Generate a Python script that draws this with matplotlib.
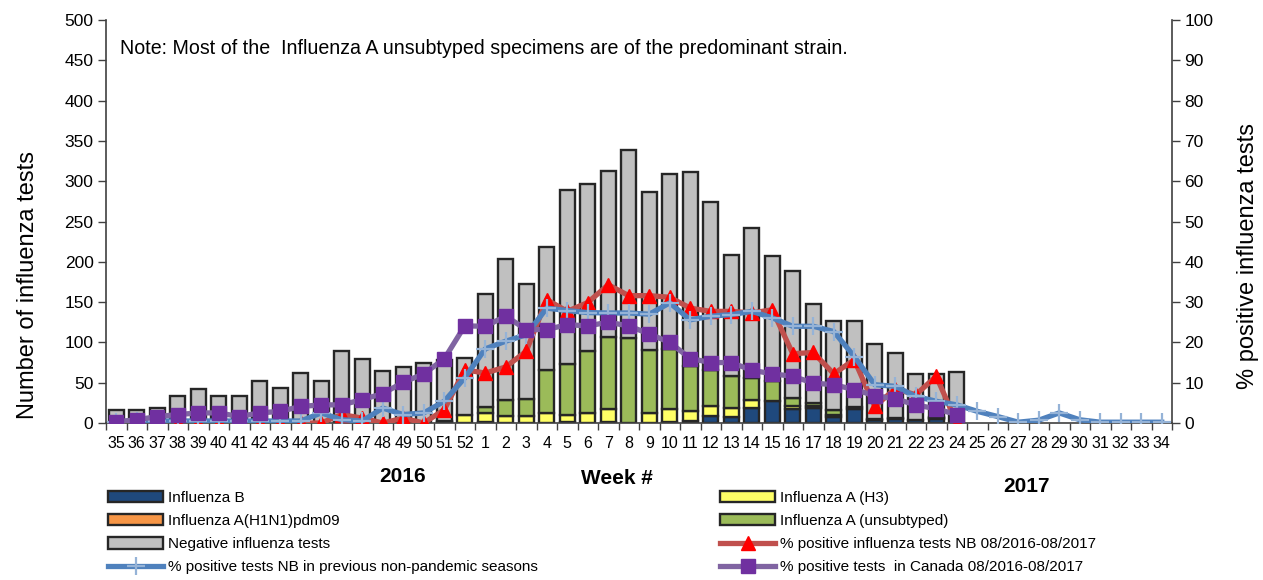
import matplotlib
matplotlib.use("Agg")
import matplotlib.pyplot as plt
import numpy as np

plt.rcParams['font.family'] = ['Liberation Sans Narrow', 'Liberation Sans', 'DejaVu Sans']

# weeks 35..52 (2016) then 1..34 (2017)
weeks = [str(w) for w in range(35, 53)] + [str(w) for w in range(1, 35)]

# bar data: weeks 35 .. 24 (42 weeks with lab data)
total_tests = [16, 16, 18, 33, 42, 34, 34, 52, 44, 62, 52, 89, 80, 65, 69, 75, 78, 81,
               160, 203, 173, 218, 289, 297, 313, 339, 286, 309, 312, 274, 208, 242,
               207, 188, 148, 126, 127, 98, 87, 61, 61, 63]
flu_b = [0, 0, 0, 0, 0, 0, 0, 0, 0, 0, 0, 1, 1, 0, 1, 0, 1, 0,
         1, 0, 0, 0, 1, 0, 1, 0, 0, 1, 2, 9, 7, 18, 27, 17, 19, 8, 17, 4, 5, 4, 5, 0]
flu_h3 = [0, 0, 0, 0, 0, 0, 0, 0, 0, 0, 0, 0, 0, 0, 0, 0, 0, 10,
          11, 9, 9, 13, 9, 13, 16, 0, 12, 16, 13, 12, 11, 11, 0, 4, 2, 2, 0, 0, 0, 0, 1, 0]
flu_h1n1 = [0] * 42
flu_unsub = [0, 0, 0, 0, 0, 0, 0, 0, 0, 0, 0, 1, 0, 0, 0, 0, 2, 0,
             8, 20, 21, 53, 63, 76, 90, 105, 78, 75, 56, 45, 40, 27, 25, 10, 4, 6, 3, 1, 1, 0, 1, 0]

# % positive NB 2016-2017 (weeks 35..24)
pct_nb = [0, 0, 0, 0, 0, 0, 0, 0, 0, 0, 0, 2.1, 1.2, 0, 1.2, 0, 3.3, 13.2,
          12.4, 13.9, 17.8, 30.6, 27.7, 29.9, 34.3, 31.6, 31.6, 31.2, 28.5, 27.7, 27.7, 27.3,
          28.1, 17.2, 17.5, 12.2, 15.7, 4.1, 8.5, 7.0, 11.6, 0]
# % positive NB previous non-pandemic seasons (all 52 weeks)
pct_prev = [0.3, 0.5, 0.5, 0.5, 0.5, 0.5, 0.5, 0.5, 0.5, 0.5, 2.5, 0.8, 0.5, 3.7, 2.1, 2.5, 5.4, 11.2,
            18.4, 20.3, 21.9, 28.5, 27.9, 27.4, 27.3, 27.3, 27.0, 29.8, 25.6, 26.5, 26.9, 27.7,
            26.1, 24.0, 24.0, 22.7, 16.5, 9.5, 9.1, 6.6, 5.4, 4.5, 2.9, 1.6, 0.2, 0.7, 2.5, 0.8,
            0.2, 0.2, 0.2, 0.2]
# % positive Canada (weeks 35..24)
pct_canada = [0.3, 0.8, 1.6, 2.1, 2.5, 2.5, 1.6, 2.5, 2.9, 4.1, 4.5, 4.5, 5.8, 7.3, 10.1, 12.2, 15.9, 24.1,
              24.0, 26.5, 23.2, 23.2, 24.4, 24.1, 25.0, 24.1, 22.1, 20.0, 16.0, 15.0, 15.0, 13.1,
              12.2, 11.6, 9.9, 9.5, 8.3, 6.8, 6.0, 4.5, 3.5, 2.1]

neg = [t - b - h - h1 - u for t, b, h, h1, u in zip(total_tests, flu_b, flu_h3, flu_h1n1, flu_unsub)]

fig = plt.figure(figsize=(12.63, 5.8), dpi=100)
ax = fig.add_axes([106/1263, 1-423/580, (1172-106)/1263, (423-20)/580])
ax2 = ax.twinx()

x = np.arange(len(total_tests))
edge = '#262626'
bottom = np.zeros(len(x))
series = [(flu_b, '#1F497D', 'Influenza B'),
          (flu_h3, '#FFFF66', 'Influenza A (H3)'),
          (flu_h1n1, '#F79646', 'Influenza A(H1N1)pdm09'),
          (flu_unsub, '#9BBB59', 'Influenza A (unsubtyped)'),
          (neg, '#C0C0C0', 'Negative influenza tests')]
bar_handles = []
for vals, col, lab in series:
    vals = np.array(vals, dtype=float)
    m = vals > 0
    ax.bar(x[m], vals[m], bottom=bottom[m], width=0.72, color=col,
           edgecolor=edge, linewidth=1.7, zorder=2)
    bottom += vals
    bar_handles.append(plt.Rectangle((0, 0), 1, 1, facecolor=col, edgecolor=edge, linewidth=1.7, label=lab))

xa = np.arange(len(weeks))
l_red, = ax2.plot(x, pct_nb, color='#C0504D', lw=3.8, marker='^', ms=10,
                  mfc='red', mec='red', label='% positive influenza tests NB 08/2016-08/2017', zorder=3)
l_blue, = ax2.plot(xa, pct_prev, color='#4F81BD', lw=3.8, marker='+', ms=13, mew=1.6,
                   mec='#95B3D7', label='% positive tests NB in previous non-pandemic seasons', zorder=4)
l_pur, = ax2.plot(x, pct_canada, color='#8064A2', lw=3.8, marker='s', ms=10.5,
                  mfc='#7030A0', mec='#7030A0', label='% positive tests  in Canada 08/2016-08/2017', zorder=5)

ax.set_xlim(-0.5, len(weeks) - 0.5)
ax.set_ylim(0, 500)
ax2.set_ylim(0, 100)
ax.set_yticks(np.arange(0, 501, 50))
ax2.set_yticks(np.arange(0, 101, 10))
ax.set_xticks(xa)
ax.set_xticklabels(weeks, fontsize=11.5)
ax.set_xticks(np.arange(-0.5, len(weeks)), minor=True)
ax.tick_params(axis='x', which='major', length=0, pad=9)
ax.tick_params(axis='x', which='minor', length=5, width=1, direction='out', color='#404040')
ax.tick_params(axis='y', labelsize=12.5, length=6, width=1, color='#404040', pad=3)
ax2.tick_params(axis='y', labelsize=12.5, length=6, width=1, color='#404040', pad=3)

for a in (ax, ax2):
    a.spines['top'].set_visible(False)
ax.spines['right'].set_visible(False)
ax2.spines['left'].set_visible(False)
ax2.spines['bottom'].set_visible(False)
for s in ('left', 'bottom'):
    ax.spines[s].set_color('#404040')
    ax.spines[s].set_linewidth(1.2)
ax2.spines['right'].set_color('#404040')
ax2.spines['right'].set_linewidth(1.2)

ax.set_ylabel('Number of influenza tests', fontsize=17)
ax.yaxis.set_label_coords(-0.063, 0.342)
ax2.set_ylabel('% positive influenza tests', fontsize=17)
ax2.yaxis.set_label_coords(1.061, 0.414)

ax.text(120/1263, 1-48/580, 'Note: Most of the  Influenza A unsubtyped specimens are of the predominant strain.',
        transform=fig.transFigure, fontsize=14.1, va='center', ha='left')
fig.text(403/1263, 1-476/580, '2016', fontsize=15, fontweight='bold', ha='center', va='center')
fig.text(617/1263, 1-478/580, 'Week #', fontsize=15, fontweight='bold', ha='center', va='center')
fig.text(1027/1263, 1-486/580, '2017', fontsize=15, fontweight='bold', ha='center', va='center')

leg_kw = dict(frameon=False, fontsize=11, handlelength=3.6, handleheight=0.75,
              labelspacing=0.6, handletextpad=0.3, borderaxespad=0, borderpad=0, numpoints=1)
left_h = [bar_handles[0], bar_handles[2], bar_handles[4], l_blue]
right_h = [bar_handles[1], bar_handles[3], l_red, l_pur]
fig.legend(handles=left_h, loc='upper left', bbox_to_anchor=(108/1263, 1-491/580), **leg_kw)
fig.legend(handles=right_h, loc='upper left', bbox_to_anchor=(720/1263, 1-491/580), **leg_kw)

fig.savefig('out.png', dpi=100)
